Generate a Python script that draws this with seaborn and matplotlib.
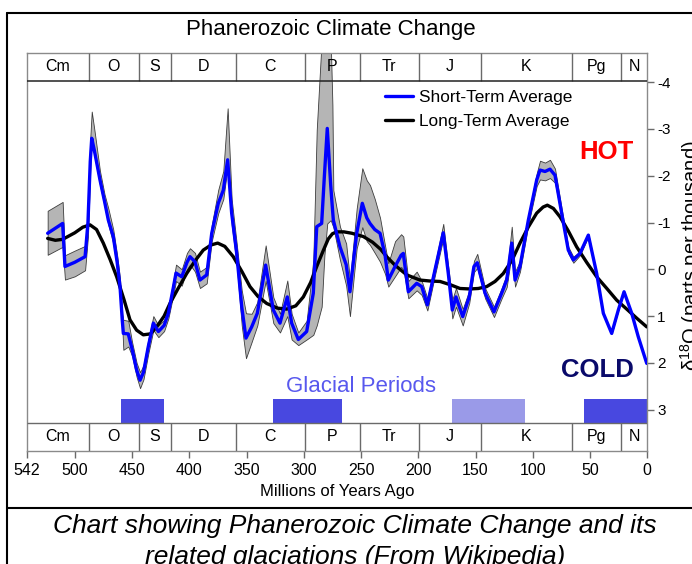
import numpy as np
import matplotlib
matplotlib.use("Agg")
import matplotlib.pyplot as plt
from matplotlib.lines import Line2D
import seaborn as sns

# ---------------- data ----------------
# short-term average (age in Ma, delta18O) with its uncertainty band
st_age = [523.7, 510.6, 508.6, 500, 491, 488.5, 486.5, 485.2, 483, 478, 474, 470.7, 466.4, 463,
          460.5, 458.5, 457.6, 453.3, 450, 446, 443, 440, 435.8, 431.4, 427, 422, 418.3, 414,
          411.6, 406.6, 402, 399.4, 395, 390.7, 384.8, 380.4, 374.7, 370.3, 366.5, 363, 358.6,
          354.2, 350.5, 345.5, 340.6, 333.3, 326.6, 320.8, 314.4, 310.6, 304.8, 297.5, 291.7,
          288.7, 284.4, 282, 279.5, 276.5, 275, 274.2, 268.4, 263, 259.7, 256.5, 253.8, 248.9,
          245, 242.2, 238, 233.4, 229, 226.2, 220.3, 215, 213.1, 208.7, 201.4, 197, 192.1,
          185.4, 178.2, 173.8, 170.3, 167.1, 161.2, 155.5, 151.4, 148.5, 141.7, 133.9, 127.2,
          122.8, 118.4, 115.5, 111.2, 103.9, 96.6, 93.7, 89.3, 85, 80.6, 74.8, 69, 64.6, 58.8,
          51.5, 44.2, 38.4, 31.1, 25.3, 20.3, 13.6, 7.9, 0.5]
st_val = [-0.77, -0.98, -0.06, -0.15, -0.27, -1.0, -2.3, -2.80, -2.55, -1.91, -1.45, -1.05, -0.70, -0.15,
          0.37, 1.10, 1.37, 1.38, 1.70, 2.15, 2.37, 2.20, 1.65, 1.15, 1.33, 1.20, 0.94, 0.40,
          0.08, 0.16, -0.15, -0.27, -0.16, 0.23, 0.12, -0.77, -1.41, -1.69, -2.34, -1.20, -0.34,
          0.80, 1.47, 1.23, 0.94, -0.09, 0.87, 1.15, 0.59, 1.15, 1.50, 1.33, 0.51,
          -0.91, -0.98, -2.0, -3.01, -1.8, -1.3, -1.05, -0.48, -0.10, 0.48, -0.20, -0.77, -1.41,
          -1.10, -0.98, -0.85, -0.77, -0.30, 0.23, -0.06, -0.30, -0.34, 0.48, 0.30, 0.37, 0.76,
          0.01, -0.78, 0.09, 0.87, 0.59, 1.01, 0.59, -0.06, -0.14, 0.51, 0.91, 0.51,
          0.23, -0.56, 0.23, -0.06, -1.05, -1.91, -2.12, -2.09, -2.14, -2.01, -1.20, -0.41, -0.20, -0.34,
          -0.73, 0.09, 0.94, 1.37, 0.87, 0.48, 0.94, 1.44, 2.01]
band_top = [-1.25, -1.44, -0.30, -0.40, -0.50, -1.3, -2.8, -3.37, -3.0, -2.1, -1.6, -1.3, -0.85, -0.3,
            0.2, 0.95, 1.08, 1.10, 1.55, 2.0, 2.2, 2.05, 1.5, 1.0, 1.2, 1.08, 0.82, 0.25,
            -0.1, 0.0, -0.35, -0.45, -0.35, 0.05, -0.05, -0.95, -1.7, -2.1, -3.44, -1.5, -0.55,
            0.45, 0.94, 0.95, 0.7, -0.51, 0.6, 0.95, 0.24, 0.95, 1.35, 1.1, -0.2,
            -2.98, -4.9, -4.9, -4.9, -4.9, -3.5, -1.69, -0.91, -0.55, 0.23, -0.6, -1.3, -2.16,
            -1.9, -1.8, -1.5, -1.1, -0.5, -0.13, -0.6, -0.75, -0.7, 0.25, 0.05, 0.25, 0.62,
            -0.12, -0.97, -0.05, 0.65, 0.4, 0.85, 0.45, -0.18, -0.33, 0.4, 0.8, 0.4,
            0.1, -0.91, 0.05, -0.18, -1.15, -2.05, -2.32, -2.28, -2.34, -2.15, -1.3, -0.48, -0.27, -0.38,
            -0.76, 0.09, 0.94, 1.37, 0.87, 0.48, 0.94, 1.44, 2.01]
band_bot = [-0.31, -0.48, 0.22, 0.15, 0.02, -0.7, -2.1, -2.75, -2.45, -1.8, -1.35, -0.95, -0.55, 0.0,
            0.6, 1.25, 1.72, 1.65, 1.85, 2.3, 2.54, 2.35, 1.8, 1.3, 1.45, 1.32, 1.05, 0.55,
            0.25, 0.35, 0.0, -0.1, 0.05, 0.4, 0.3, -0.6, -1.2, -1.5, -2.2, -0.95, -0.1,
            1.2, 1.90, 1.55, 1.2, 0.25, 1.15, 1.35, 1.0, 1.5, 1.62, 1.5, 1.4,
            1.2, 0.8, -0.3, -0.98, -1.05, -0.95, -0.9, -0.2, 0.35, 1.0, 0.2, -0.45, -0.9,
            -0.6, -0.52, -0.35, -0.16, 0.1, 0.37, 0.15, -0.05, 0.0, 0.62, 0.45, 0.55, 0.88,
            0.12, -0.66, 0.2, 1.05, 0.8, 1.2, 0.72, 0.06, -0.03, 0.62, 1.02, 0.62,
            0.38, -0.35, 0.37, 0.05, -0.95, -1.78, -1.92, -1.90, -1.95, -1.85, -1.1, -0.34, -0.14, -0.30,
            -0.70, 0.09, 0.94, 1.37, 0.87, 0.48, 0.94, 1.44, 2.01]

# long-term average
lt_age = [523.7, 517, 510.6, 500, 493, 486.7, 481, 475.1, 469, 463.4, 457, 451.8, 446, 440.2, 434,
          428.5, 422, 416.9, 410, 402.3, 395, 387.8, 381, 375.2, 369, 361.6, 354, 347, 340, 332.4,
          323, 314.9, 307, 300.4, 294, 288.7, 283, 278.6, 275, 271.3, 265, 258, 248, 240, 233,
          227.6, 220, 210.1, 198.5, 190, 181, 172, 163.6, 155, 147.6, 140.3, 133, 125.8, 118,
          111.2, 104, 96.6, 91, 87.3, 82, 76.2, 69, 61.7, 53, 44.2, 35, 26.7, 18, 9, 0.5]
lt_val = [-0.66, -0.62, -0.64, -0.78, -0.90, -0.95, -0.85, -0.56, -0.20, 0.16, 0.65, 1.08, 1.30, 1.40, 1.38,
          1.23, 1.00, 0.73, 0.42, 0.09, -0.18, -0.41, -0.52, -0.56, -0.49, -0.27, 0.05, 0.37, 0.58, 0.73,
          0.83, 0.85, 0.78, 0.59, 0.28, -0.06, -0.40, -0.65, -0.76, -0.80, -0.80, -0.77, -0.70, -0.58, -0.43,
          -0.27, -0.08, 0.12, 0.23, 0.25, 0.26, 0.33, 0.41, 0.42, 0.41, 0.37, 0.26, 0.09, -0.20,
          -0.56, -0.90, -1.20, -1.33, -1.37, -1.30, -1.12, -0.82, -0.48, -0.15, 0.16, 0.42, 0.66, 0.85, 1.05, 1.23]

# geologic periods
period_names = ["Cm", "O", "S", "D", "C", "P", "Tr", "J", "K", "Pg", "N"]
period_bounds = [542, 488, 443.7, 416, 359.2, 299, 251, 199.6, 145.5, 65.5, 23, 0]

# glacial periods
glacial_start = [460, 327, 171, 55]
glacial_end = [422.5, 267, 107, 0]
glacial_major = [True, True, False, True]

xticks = [542, 500, 450, 400, 350, 300, 250, 200, 150, 100, 50, 0]
yticks = [-4, -3, -2, -1, 0, 1, 2, 3]
ytick_labels = ["-4", "-3", "-2", "-1", "0", "1", "2", "3"]

# ---------------- style ----------------
sns.set_style("ticks")
plt.rcParams["font.family"] = ["Liberation Sans", "DejaVu Sans"]
plt.rcParams["mathtext.fontset"] = "custom"
plt.rcParams["mathtext.rm"] = "Liberation Sans"
plt.rcParams["mathtext.it"] = "Liberation Sans:italic"
plt.rcParams["text.color"] = "black"

W, H = 692, 564
fig = plt.figure(figsize=(W / 100, H / 100), dpi=100)
fig.patch.set_facecolor("white")


def fx(x):
    return x / W


def fy(y):
    return 1 - y / H


X0, X1, Y0, Y1 = 26.7, 647.3, 52.7, 450.7
ax = fig.add_axes([fx(X0), fy(Y1), fx(X1) - fx(X0), fy(Y0) - fy(Y1)])
ax.set_facecolor("white")


def v_of(y):
    return (y - 269.3) / 46.8


V_TOP, V_BOT = v_of(Y0), v_of(Y1)
STRIP1 = v_of(80.7)
GLAC_TOP = v_of(399)
STRIP2 = v_of(422.7)

# band
ax.fill_between(st_age, band_top, band_bot, facecolor="#b5b5b5",
                edgecolor="#3c3c3c", linewidth=0.6, zorder=1)

# curves
sns.lineplot(x=st_age, y=st_val, ax=ax, color="#0000ff", linewidth=2.4,
             label="Short-Term Average", sort=False, estimator=None, zorder=4)
sns.lineplot(x=lt_age, y=lt_val, ax=ax, color="black", linewidth=2.4,
             label="Long-Term Average", sort=False, estimator=None, zorder=3)

# glacial bars
g_start = np.array(glacial_start)
g_end = np.array(glacial_end)
g_colors = ["#4848e0" if m else "#9a9ae8" for m in glacial_major]
ax.bar(x=g_start, height=STRIP2 - GLAC_TOP, width=g_end - g_start, bottom=GLAC_TOP,
       align="edge", color=g_colors, linewidth=0, zorder=2)

# period strips
inner = period_bounds[1:-1]
ax.vlines(inner, V_TOP, STRIP1, colors="#6a6a6a", linewidth=1.0, zorder=5)
ax.vlines(inner, STRIP2, V_BOT, colors="#6a6a6a", linewidth=1.0, zorder=5)
ax.hlines(STRIP1, 542, 0, colors="#222222", linewidth=1.1, zorder=5)
ax.hlines(STRIP2, 542, 0, colors="#6a6a6a", linewidth=1.0, zorder=5)
for i, name in enumerate(period_names):
    mid = (period_bounds[i] + period_bounds[i + 1]) / 2
    ax.text(mid, (V_TOP + STRIP1) / 2, name, ha="center", va="center",
            fontsize=11.5, zorder=6)
    ax.text(mid, (STRIP2 + V_BOT) / 2, name, ha="center", va="center",
            fontsize=11.5, zorder=6)

ax.set_xlim(542, 0)
ax.set_ylim(V_BOT, V_TOP)

for s in ax.spines.values():
    s.set_color("#8a8a8a")
    s.set_linewidth(1.0)
    s.set_visible(True)

ax.set_xticks(xticks)
ax.set_xticklabels([str(t) for t in xticks])
ax.tick_params(axis="x", direction="out", length=5, width=1, color="#6a6a6a",
               labelsize=11.5, pad=4, labelcolor="black", bottom=True)
ax.yaxis.tick_right()
ax.set_yticks(yticks)
ax.set_yticklabels(ytick_labels)
ax.tick_params(axis="y", direction="out", length=5, width=1, color="#6a6a6a",
               labelsize=11, pad=2, labelcolor="black", right=True, left=False)
ax.set_xlabel("Millions of Years Ago", fontsize=12, labelpad=4, color="black")
ax.set_ylabel("")

# legend
h, l = ax.get_legend_handles_labels()
leg = ax.legend(h, l, loc="upper left", bbox_to_anchor=(fx(385), fy(90)),
                bbox_transform=fig.transFigure, frameon=False, fontsize=12.4,
                borderpad=0, borderaxespad=0, handlelength=1.6,
                handletextpad=0.35, labelspacing=0.52)

# texts
fig.text(fx(331), fy(30), "Phanerozoic Climate Change", ha="center", va="center",
         fontsize=16)
fig.text(fx(606), fy(152), "HOT", ha="center", va="center", fontsize=18.5,
         fontweight="bold", color="#ff0000")
fig.text(fx(597), fy(370), "COLD", ha="center", va="center", fontsize=18.5,
         fontweight="bold", color="#0a0a6a")
fig.text(fx(361), fy(387), "Glacial Periods", ha="center", va="center",
         fontsize=16, color="#5858ee")
fig.text(fx(691), fy(256), r"δ$^{18}$O (parts per thousand)", rotation=90,
         ha="center", va="center", fontsize=14.5)

# frame and caption
fig.add_artist(Line2D([fx(7), fx(7)], [fy(12.5), fy(564)], transform=fig.transFigure,
                      color="black", linewidth=1.5))
fig.add_artist(Line2D([fx(7), fx(692)], [fy(12.5), fy(12.5)], transform=fig.transFigure,
                      color="black", linewidth=1.5))
fig.add_artist(Line2D([fx(7), fx(692)], [fy(508), fy(508)], transform=fig.transFigure,
                      color="black", linewidth=1.5))
fig.text(fx(355), fy(526), "Chart showing Phanerozoic Climate Change and its",
         ha="center", va="center", fontsize=19, style="italic")
fig.text(fx(355), fy(557), "related glaciations (From Wikipedia)",
         ha="center", va="center", fontsize=19, style="italic")

fig.savefig("out.png", dpi=100)
